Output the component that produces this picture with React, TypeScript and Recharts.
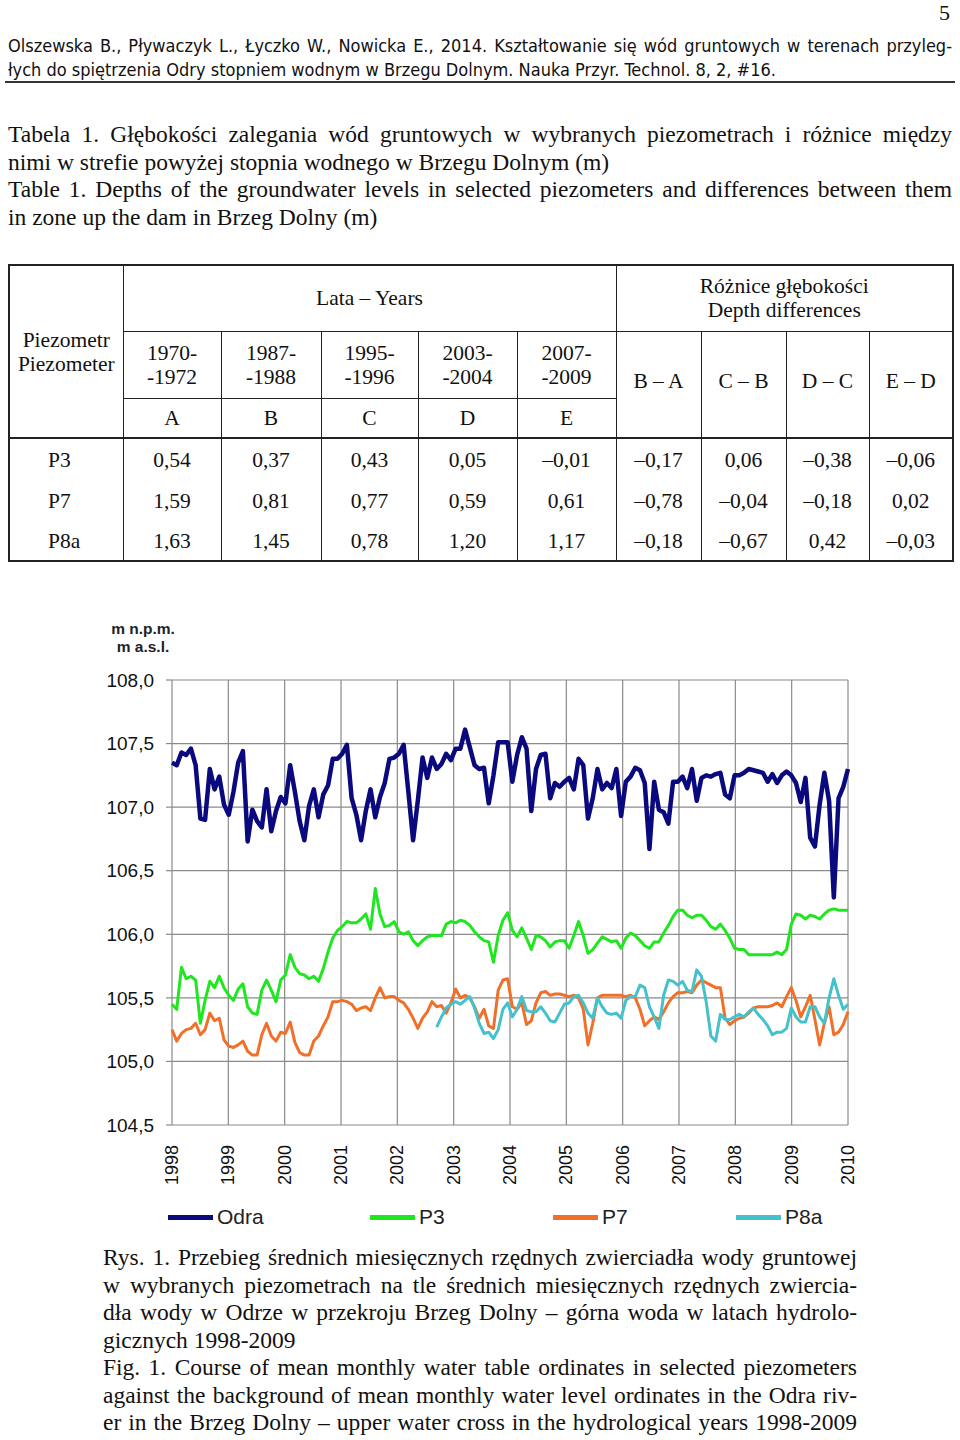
import React from "react";
import { LineChart, Line, XAxis, YAxis, CartesianGrid } from "recharts";

// ---- chart data (mean monthly levels, m a.s.l.), hydrological years 1998-2009 ----
const years = [1998, 1999, 2000, 2001, 2002, 2003, 2004, 2005, 2006, 2007, 2008, 2009, 2010];
const yTicks = [104.5, 105, 105.5, 106, 106.5, 107, 107.5, 108];

const odra = [
  107.35, 107.33, 107.43, 107.41, 107.46, 107.33, 106.91, 106.9, 107.3, 107.14, 107.24, 107.02,
  106.94, 107.12, 107.35, 107.44, 106.73, 106.98, 106.89, 106.84, 107.14, 106.81, 106.97, 107.08,
  107.03, 107.33, 107.12, 106.89, 106.74, 107.01, 107.14, 106.92, 107.1, 107.17, 107.38, 107.38,
  107.42, 107.49, 107.07, 106.94, 106.74, 106.97, 107.14, 106.92, 107.08, 107.19, 107.38, 107.39,
  107.42, 107.49, 107.12, 106.74, 107.05, 107.39, 107.23, 107.39, 107.3, 107.34, 107.42, 107.37,
  107.46, 107.46, 107.61, 107.47, 107.33, 107.3, 107.31, 107.03, 107.25, 107.51, 107.51, 107.51,
  107.2, 107.41, 107.55, 107.46, 106.97, 107.3, 107.41, 107.42, 107.07, 107.19, 107.16, 107.2,
  107.23, 107.14, 107.38, 107.33, 106.91, 107.07, 107.3, 107.14, 107.19, 107.15, 107.3, 106.93,
  107.2, 107.24, 107.31, 107.29, 107.19, 106.67, 107.2, 106.98, 106.96, 106.87, 107.2, 107.2,
  107.24, 107.15, 107.3, 107.05, 107.23, 107.25, 107.24, 107.26, 107.27, 107.1, 107.07, 107.25,
  107.25, 107.27, 107.3, 107.29, 107.28, 107.27, 107.2, 107.26, 107.19, 107.25, 107.28, 107.25,
  107.19, 107.04, 107.23, 106.76, 106.69, 107.02, 107.27, 107.05, 106.29, 107.07, 107.16, 107.3,
];

const p3 = [
  105.45, 105.41, 105.74, 105.65, 105.67, 105.64, 105.3, 105.48, 105.63, 105.58, 105.67, 105.58,
  105.52, 105.48, 105.57, 105.61, 105.43, 105.38, 105.37, 105.56, 105.64, 105.56, 105.47, 105.64,
  105.68, 105.84, 105.74, 105.69, 105.68, 105.65, 105.67, 105.63, 105.73, 105.86, 105.97, 106.03,
  106.06, 106.1, 106.09, 106.09, 106.12, 106.16, 106.04, 106.36, 106.16, 106.06, 106.07, 106.1,
  106.02, 106.0, 106.02, 105.95, 105.91, 105.95, 105.98, 105.99, 105.99, 105.99, 106.08, 106.1,
  106.09, 106.11, 106.1, 106.07, 106.02, 105.98, 105.95, 105.94, 105.78, 105.99, 106.11, 106.17,
  106.03, 105.98, 106.05, 105.97, 105.88, 105.99, 105.98, 105.95, 105.9, 105.94, 105.95, 105.95,
  105.89, 105.99, 106.1, 105.99, 105.85, 105.88, 105.93, 105.98, 105.96, 105.94, 105.95, 105.89,
  105.97, 106.01, 105.99, 105.95, 105.91, 105.89, 105.94, 105.94, 106.01, 106.07, 106.14, 106.19,
  106.19, 106.15, 106.13, 106.15, 106.15, 106.11, 106.06, 106.04, 106.08, 106.03, 105.97, 105.89,
  105.88, 105.88, 105.84, 105.84, 105.84, 105.84, 105.84, 105.84, 105.86, 105.84, 105.88, 106.08,
  106.16, 106.15, 106.12, 106.15, 106.14, 106.12, 106.16, 106.19, 106.2, 106.19, 106.19, 106.19,
];

const p7 = [
  105.25, 105.16, 105.22, 105.25, 105.26, 105.3, 105.21, 105.25, 105.38, 105.32, 105.34, 105.17,
  105.12, 105.11, 105.13, 105.16, 105.08, 105.05, 105.05, 105.21, 105.3, 105.2, 105.16, 105.23,
  105.22, 105.31, 105.15, 105.07, 105.05, 105.05, 105.16, 105.2, 105.28, 105.35, 105.47, 105.47,
  105.48, 105.47, 105.45, 105.4, 105.42, 105.43, 105.4, 105.5, 105.58, 105.5, 105.51, 105.51,
  105.48, 105.46, 105.41, 105.34, 105.26, 105.34, 105.39, 105.47, 105.43, 105.44, 105.38, 105.46,
  105.57, 105.5, 105.52, 105.5, 105.43, 105.34, 105.41, 105.28, 105.26, 105.56, 105.64, 105.65,
  105.43, 105.41, 105.46, 105.29, 105.32, 105.46, 105.54, 105.55, 105.52, 105.53, 105.53, 105.52,
  105.51, 105.52, 105.5, 105.41, 105.13, 105.3, 105.5, 105.52, 105.52, 105.52, 105.52, 105.52,
  105.51, 105.52, 105.5, 105.41, 105.28, 105.32, 105.35, 105.33, 105.39, 105.46, 105.51, 105.54,
  105.54, 105.55, 105.54, 105.6, 105.64, 105.62, 105.6, 105.58, 105.58, 105.34, 105.29, 105.32,
  105.34, 105.35, 105.38, 105.42, 105.43, 105.43, 105.43, 105.44, 105.46, 105.43, 105.51, 105.58,
  105.48, 105.35, 105.43, 105.52, 105.33, 105.13, 105.3, 105.43, 105.21, 105.23, 105.29, 105.39,
];

// P8a measured from Sep 2002 (month index 56)
const p8aStart = 56;
const p8a = [
  105.27, 105.35, 105.42, 105.45,
  105.47, 105.45, 105.48, 105.51, 105.42, 105.3, 105.22, 105.23, 105.18, 105.25, 105.41, 105.46,
  105.35, 105.41, 105.51, 105.4, 105.39, 105.39, 105.43, 105.38, 105.32, 105.31, 105.38, 105.45,
  105.46, 105.51, 105.52, 105.46, 105.38, 105.34, 105.5, 105.43, 105.38, 105.37, 105.38, 105.34,
  105.48, 105.51, 105.51, 105.6, 105.58, 105.43, 105.35, 105.26, 105.52, 105.64, 105.63, 105.6,
  105.63, 105.56, 105.55, 105.72, 105.67, 105.47, 105.2, 105.16, 105.37, 105.33, 105.33, 105.35,
  105.37, 105.35, 105.39, 105.42, 105.37, 105.33, 105.28, 105.21, 105.23, 105.23, 105.26, 105.42,
  105.35, 105.31, 105.31, 105.43, 105.43, 105.35, 105.3, 105.5, 105.65, 105.52, 105.41, 105.45,
];

const seriesMeta = [
  { key: "odra", name: "Odra", color: "#0a0a7e", width: 4.5 },
  { key: "p3", name: "P3", color: "#1fe61f", width: 3 },
  { key: "p7", name: "P7", color: "#f0702a", width: 3 },
  { key: "p8a", name: "P8a", color: "#45c1cb", width: 3 },
];
const legendX = [168, 370, 553, 736];

// ---- table data ----
const piezometers = ["P3", "P7", "P8a"];
const periodFrom = ["1970-", "1987-", "1995-", "2003-", "2007-"];
const periodTo = ["-1972", "-1988", "-1996", "-2004", "-2009"];
const periodLetters = ["A", "B", "C", "D", "E"];
const diffLabels = ["B – A", "C – B", "D – C", "E – D"];
const depths = [
  ["0,54", "0,37", "0,43", "0,05", "–0,01"],
  ["1,59", "0,81", "0,77", "0,59", "0,61"],
  ["1,63", "1,45", "0,78", "1,20", "1,17"],
];
const diffs = [
  ["–0,17", "0,06", "–0,38", "–0,06"],
  ["–0,78", "–0,04", "–0,18", "0,02"],
  ["–0,18", "–0,67", "0,42", "–0,03"],
];
const colWidths = [114, 98, 100, 97, 99, 99, 85, 85, 83, 84];

const months = odra.length; // 144
const lastIdx = months - 1;
const data = odra.map((v, i) => ({
  i,
  odra: v,
  p3: p3[i],
  p7: p7[i],
  p8a: i >= p8aStart ? p8a[i - p8aStart] : null,
}));
const xTicks = years.map((_, k) => (k * lastIdx) / 12);

const serif = "'Liberation Serif', 'Times New Roman', serif";
const sans = "'Liberation Sans', Arial, sans-serif";
const B = "1.5px solid #222";

function YearTick({ x, y, payload }: any) {
  const year = Math.round(1998 + (payload.value * 12) / lastIdx);
  return (
    <g transform={`translate(${x},${y})`}>
      <text
        transform="rotate(-90)"
        textAnchor="end"
        dominantBaseline="central"
        fontSize={18}
        fontFamily={sans}
        fill="#111"
      >
        {year}
      </text>
    </g>
  );
}

function JustLine({ text, last }: { text: string; last?: boolean }) {
  return (
    <div style={{ textAlign: "justify", textAlignLast: last ? "left" : "justify" }}>{text}</div>
  );
}

export default function App() {
  const cell: React.CSSProperties = {
    borderLeft: B,
    borderRight: B,
    textAlign: "center",
    verticalAlign: "middle",
    padding: 0,
  };
  return (
    <div
      style={{
        position: "absolute",
        left: 0,
        top: 0,
        width: 960,
        height: 1440,
        background: "#fff",
        color: "#111",
        overflow: "hidden",
      }}
    >
      <div style={{ position: "absolute", right: 10, top: 0, fontFamily: serif, fontSize: 22 }}>5</div>

      {/* header */}
      <div
        style={{
          position: "absolute",
          left: 8,
          top: 34,
          width: 944,
          fontFamily: "'DejaVu Sans Condensed', Tahoma, sans-serif",
          fontSize: 18,
          lineHeight: "24px",
        }}
      >
        <JustLine text="Olszewska B., Pływaczyk L., Łyczko W., Nowicka E., 2014. Kształtowanie się wód gruntowych w terenach przyleg-" />
        <JustLine last text="łych do spiętrzenia Odry stopniem wodnym w Brzegu Dolnym. Nauka Przyr. Technol. 8, 2, #16." />
      </div>
      <div style={{ position: "absolute", left: 5, top: 81, width: 950, height: 2, background: "#333" }} />

      {/* table caption */}
      <div
        style={{
          position: "absolute",
          left: 8,
          top: 121,
          width: 944,
          fontFamily: serif,
          fontSize: 23.5,
          lineHeight: "27.5px",
        }}
      >
        <JustLine text="Tabela 1. Głębokości zalegania wód gruntowych w wybranych piezometrach i różnice między" />
        <JustLine last text="nimi w strefie powyżej stopnia wodnego w Brzegu Dolnym (m)" />
        <JustLine text="Table 1. Depths of the groundwater levels in selected piezometers and differences between them" />
        <JustLine last text="in zone up the dam in Brzeg Dolny (m)" />
      </div>

      {/* table */}
      <table
        style={{
          position: "absolute",
          left: 8,
          top: 264,
          width: 944,
          borderCollapse: "collapse",
          tableLayout: "fixed",
          border: "2px solid #222",
          fontFamily: serif,
          fontSize: 21.5,
          lineHeight: "24px",
        }}
      >
        <colgroup>
          {colWidths.map((w, k) => (
            <col key={k} style={{ width: w }} />
          ))}
        </colgroup>
        <tbody>
          <tr style={{ height: 66 }}>
            <td rowSpan={3} style={cell}>
              Piezometr
              <br />
              Piezometer
            </td>
            <td colSpan={5} style={{ ...cell, borderBottom: B }}>
              Lata – Years
            </td>
            <td colSpan={4} style={{ ...cell, borderBottom: B }}>
              Różnice głębokości
              <br />
              Depth differences
            </td>
          </tr>
          <tr style={{ height: 67 }}>
            {periodFrom.map((p, k) => (
              <td key={p} style={{ ...cell, borderBottom: B }}>
                {p}
                <br />
                {periodTo[k]}
              </td>
            ))}
            {diffLabels.map((d) => (
              <td key={d} rowSpan={2} style={{ ...cell, paddingBottom: 6 }}>
                {d}
              </td>
            ))}
          </tr>
          <tr style={{ height: 40 }}>
            {periodLetters.map((l) => (
              <td key={l} style={cell}>
                {l}
              </td>
            ))}
          </tr>
          {piezometers.map((p, r) => (
            <tr key={p} style={{ height: r === 0 ? 43 : 40 }}>
              <td style={{ ...cell, textAlign: "left", paddingLeft: 38, borderTop: r === 0 ? "2px solid #222" : undefined }}>
                {p}
              </td>
              {depths[r].map((v, k) => (
                <td key={"d" + k} style={{ ...cell, borderTop: r === 0 ? "2px solid #222" : undefined }}>
                  {v}
                </td>
              ))}
              {diffs[r].map((v, k) => (
                <td key={"f" + k} style={{ ...cell, borderTop: r === 0 ? "2px solid #222" : undefined }}>
                  {v}
                </td>
              ))}
            </tr>
          ))}
        </tbody>
      </table>

      {/* chart */}
      <div
        style={{
          position: "absolute",
          left: 93,
          top: 620,
          width: 100,
          textAlign: "center",
          fontFamily: sans,
          fontWeight: "bold",
          fontSize: 15.5,
          lineHeight: "18px",
          color: "#222",
        }}
      >
        <div>m n.p.m.</div>
        <div>m a.s.l.</div>
      </div>
      <div style={{ position: "absolute", left: 0, top: 600 }}>
        <LineChart
          width={960}
          height={640}
          data={data}
          margin={{ top: 80, right: 112, bottom: 55, left: 112 }}
        >
          <CartesianGrid stroke="#8a8a8a" strokeWidth={1.2} />
          <XAxis
            dataKey="i"
            type="number"
            domain={[0, lastIdx]}
            ticks={xTicks}
            interval={0}
            height={60}
            axisLine={false}
            tickLine={false}
            tickSize={0}
            tickMargin={20}
            tick={(props: any) => <YearTick {...props} />}
          />
          <YAxis
            type="number"
            domain={[104.5, 108]}
            ticks={yTicks}
            interval={0}
            width={60}
            axisLine={false}
            tickLine={{ stroke: "#8a8a8a", strokeWidth: 1.2 }}
            tickSize={6}
            tickMargin={12}
            tickFormatter={(v: number) => v.toFixed(1).replace(".", ",")}
            tick={{ fill: "#111", fontSize: 19, fontFamily: sans }}
          />
          {seriesMeta.map((s) => (
            <Line
              key={s.key}
              type="linear"
              dataKey={s.key}
              name={s.name}
              stroke={s.color}
              strokeWidth={s.width}
              dot={false}
              strokeLinejoin="round"
              isAnimationActive={false}
            />
          ))}
        </LineChart>
      </div>

      {/* legend */}
      {seriesMeta.map((s, k) => (
        <div
          key={s.key}
          style={{
            position: "absolute",
            left: legendX[k],
            top: 1204,
            height: 26,
            display: "flex",
            alignItems: "center",
            fontFamily: sans,
            fontSize: 21,
            color: "#222",
          }}
        >
          <div style={{ width: 45, height: 5, background: s.color, marginRight: 4 }} />
          <span>{s.name}</span>
        </div>
      ))}

      {/* figure caption */}
      <div
        style={{
          position: "absolute",
          left: 103,
          top: 1244,
          width: 754,
          fontFamily: serif,
          fontSize: 23.5,
          lineHeight: "27.5px",
        }}
      >
        <JustLine text="Rys. 1. Przebieg średnich miesięcznych rzędnych zwierciadła wody gruntowej" />
        <JustLine text="w wybranych piezometrach na tle średnich miesięcznych rzędnych zwiercia-" />
        <JustLine text="dła wody w Odrze w przekroju Brzeg Dolny – górna woda w latach hydrolo-" />
        <JustLine last text="gicznych 1998-2009" />
        <JustLine text="Fig. 1. Course of mean monthly water table ordinates in selected piezometers" />
        <JustLine text="against the background of mean monthly water level ordinates in the Odra riv-" />
        <JustLine text="er in the Brzeg Dolny – upper water cross in the hydrological years 1998-2009" />
      </div>
    </div>
  );
}
